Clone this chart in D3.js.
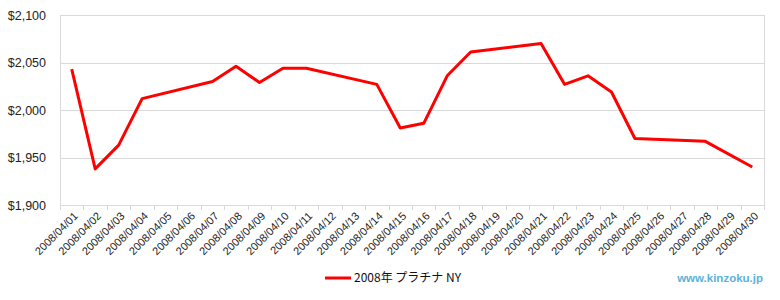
<!DOCTYPE html>
<html lang='ja'>
<head>
    <meta charset='UTF-8'>
    <title>2008年 プラチナ NY</title>
    <style>
        body {
            margin: 0;
            background: #fff;
        }

        .grid line {
            stroke: #d9d9d9;
            stroke-width: 1px;
        }

        .axis text {
            font-family: 'Liberation Sans', Arial, sans-serif;
            fill: #222;
        }

        .axis path, .axis line {
            stroke: #d9d9d9;
        }

        .price-line {
            fill: none;
            stroke: #ff0000;
            stroke-width: 3px;
            stroke-linejoin: round;
        }
    </style>
</head>
<body>
    <div id="chart"></div>
    <script src='https://d3js.org/d3.v7.min.js'></script>
    <script>
        // trading days only, null = no quote (weekend / holiday)
        const dates = [
            '2008/04/01', '2008/04/02', '2008/04/03', '2008/04/04', '2008/04/05',
            '2008/04/06', '2008/04/07', '2008/04/08', '2008/04/09', '2008/04/10',
            '2008/04/11', '2008/04/12', '2008/04/13', '2008/04/14', '2008/04/15',
            '2008/04/16', '2008/04/17', '2008/04/18', '2008/04/19', '2008/04/20',
            '2008/04/21', '2008/04/22', '2008/04/23', '2008/04/24', '2008/04/25',
            '2008/04/26', '2008/04/27', '2008/04/28', '2008/04/29', '2008/04/30'
        ]
        const prices = [
            2043, 1938, 1963, 2012, null,
            null, 2030, 2046, 2029, 2044,
            2044, null, null, 2027, 1981,
            1986, 2036, 2061, null, null,
            2070, 2027, 2036, 2019, 1970,
            null, null, 1967, null, 1940
        ]
        const yTicks = [1900, 1950, 2000, 2050, 2100]
        const seriesName = '2008年 プラチナ NY'

        const width = 780
        const height = 300
        const margin = { top: 15, right: 16, bottom: 95, left: 60 }
        const plotW = width - margin.left - margin.right
        const plotH = height - margin.top - margin.bottom

        const svg = d3.select('#chart')
            .append('svg')
            .attr('width', width)
            .attr('height', height)

        const g = svg.append('g')
            .attr('transform', `translate(${margin.left}, ${margin.top})`)

        const x = d3.scaleBand()
            .domain(dates)
            .range([0, plotW])

        const y = d3.scaleLinear()
            .domain([1900, 2100])
            .range([plotH, 0])

        const money = d3.format('$,')

        // horizontal grid
        g.append('g')
            .attr('class', 'grid')
            .selectAll('line')
            .data(yTicks)
            .join('line')
            .attr('x1', 0)
            .attr('x2', plotW)
            .attr('y1', d => Math.round(y(d)) + 0.5)
            .attr('y2', d => Math.round(y(d)) + 0.5)

        // right border of plot area
        g.append('line')
            .attr('x1', plotW + 0.5).attr('x2', plotW + 0.5)
            .attr('y1', 0).attr('y2', plotH)
            .attr('stroke', '#d9d9d9')

        // y axis
        const yAxis = g.append('g')
            .attr('class', 'axis')
            .call(d3.axisLeft(y).tickValues(yTicks).tickFormat(money).tickSize(0).tickPadding(14))
        yAxis.select('.domain').attr('d', `M0.5,0V${plotH}`)
        yAxis.selectAll('text').style('font-size', '12.5px')

        // x axis: ticks sit on category boundaries
        const xAxis = g.append('g')
            .attr('class', 'axis')
            .attr('transform', `translate(0, ${plotH})`)
        xAxis.append('line')
            .attr('x1', 0).attr('x2', plotW)
            .attr('y1', 0.5).attr('y2', 0.5)
        xAxis.selectAll('.tick-mark')
            .data(dates.concat(['end']))
            .join('line')
            .attr('class', 'tick-mark')
            .attr('x1', (d, i) => Math.round(i * x.step()) + 0.5)
            .attr('x2', (d, i) => Math.round(i * x.step()) + 0.5)
            .attr('y1', 0)
            .attr('y2', 5)
        xAxis.selectAll('text')
            .data(dates)
            .join('text')
            .attr('transform', d => `translate(${x(d) + x.bandwidth() / 2 + 4}, 9) rotate(-45)`)
            .attr('text-anchor', 'end')
            .attr('dy', '0.35em')
            .style('font-size', '11px')
            .text(d => d)

        // price line, gaps are bridged
        const points = dates
            .map((d, i) => ({ date: d, value: prices[i] }))
            .filter(p => p.value !== null)

        const line = d3.line()
            .x(p => x(p.date) + x.bandwidth() / 2)
            .y(p => y(p.value))

        g.append('path')
            .datum(points)
            .attr('class', 'price-line')
            .attr('d', line)

        // legend
        const legend = svg.append('g')
            .attr('transform', 'translate(325, 278)')
        legend.append('line')
            .attr('x1', 0).attr('x2', 26)
            .attr('y1', 0).attr('y2', 0)
            .attr('stroke', '#ff0000')
            .attr('stroke-width', 3)
        legend.append('text')
            .attr('x', 29)
            .attr('dy', '0.35em')
            .style('font-family', "'Noto Sans CJK JP', 'Liberation Sans', sans-serif")
            .style('font-size', '12px')
            .attr('fill', '#111')
            .text(seriesName)

        // site mark
        svg.append('text')
            .attr('x', 763)
            .attr('y', 282)
            .attr('text-anchor', 'end')
            .style('font-family', "'Liberation Sans', Arial, sans-serif")
            .style('font-size', '11.5px')
            .style('font-weight', 'bold')
            .attr('fill', '#5bb3d9')
            .text('www.kinzoku.jp')
    </script>
</body>
</html>
